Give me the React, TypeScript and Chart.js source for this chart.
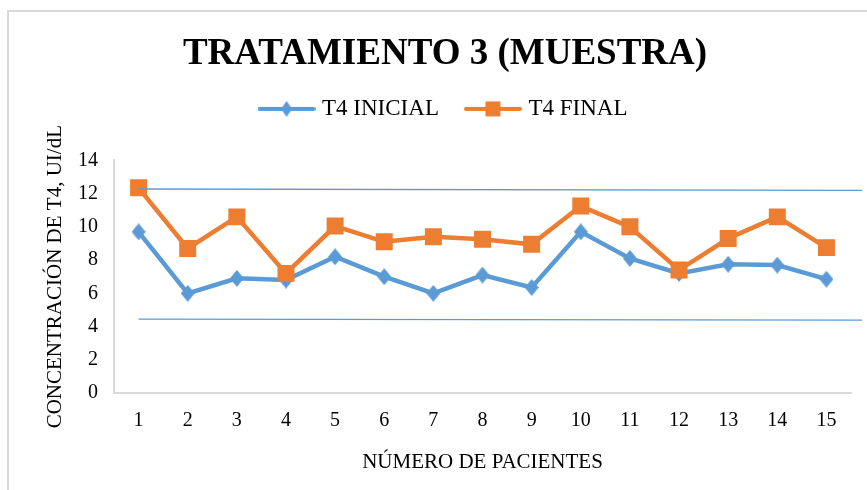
import React, { useEffect, useRef } from "react";
import { Chart, registerables } from "chart.js";

Chart.register(...registerables);

const categories = ["1", "2", "3", "4", "5", "6", "7", "8", "9", "10", "11", "12", "13", "14", "15"];
const t4Inicial = [9.7, 6.0, 6.9, 6.8, 8.2, 7.0, 6.0, 7.1, 6.35, 9.7, 8.1, 7.2, 7.75, 7.7, 6.85];
const t4Final = [12.35, 8.7, 10.6, 7.2, 10.05, 9.1, 9.4, 9.25, 8.95, 11.25, 10.0, 7.4, 9.3, 10.6, 8.75];
// hand-drawn reference lines: value at the left start and at the right end
const refUpper = [12.28, 12.2];
const refLower = [4.45, 4.39];

const BLUE = "#5B9BD5";
const ORANGE = "#ED7D31";
const FONT = "'Liberation Serif', 'Times New Roman', serif";

function makeDiamond(w: number, h: number, color: string) {
  const c = document.createElement("canvas");
  c.width = w;
  c.height = h;
  const ctx = c.getContext("2d")!;
  ctx.fillStyle = color;
  ctx.beginPath();
  ctx.moveTo(w / 2, 0);
  ctx.lineTo(w, h / 2);
  ctx.lineTo(w / 2, h);
  ctx.lineTo(0, h / 2);
  ctx.closePath();
  ctx.fill();
  return c;
}

function makeLegendIcon(kind: "diamond" | "square", color: string) {
  const w = 58;
  const h = 18;
  const c = document.createElement("canvas");
  c.width = w;
  c.height = h;
  const ctx = c.getContext("2d")!;
  ctx.strokeStyle = color;
  ctx.lineWidth = 4;
  ctx.lineCap = "round";
  ctx.beginPath();
  ctx.moveTo(2, h / 2);
  ctx.lineTo(w - 2, h / 2);
  ctx.stroke();
  ctx.fillStyle = color;
  if (kind === "diamond") {
    ctx.beginPath();
    ctx.moveTo(w / 2, 1);
    ctx.lineTo(w / 2 + 5.5, h / 2);
    ctx.lineTo(w / 2, h - 1);
    ctx.lineTo(w / 2 - 5.5, h / 2);
    ctx.closePath();
    ctx.fill();
  } else {
    ctx.fillRect(w / 2 - 7.5, h / 2 - 7.5, 15, 15);
  }
  return c;
}

const refLinesPlugin = {
  id: "refLines",
  afterDatasetsDraw(chart: any) {
    const { ctx } = chart;
    const x = chart.scales.x;
    const y = chart.scales.y;
    const x0 = x.getPixelForValue(0);
    const x1 = chart.chartArea.right + 11;
    ctx.save();
    ctx.strokeStyle = BLUE;
    ctx.lineWidth = 1.3;
    for (const r of [refUpper, refLower]) {
      ctx.beginPath();
      ctx.moveTo(x0, y.getPixelForValue(r[0]));
      ctx.lineTo(x1, y.getPixelForValue(r[1]));
      ctx.stroke();
    }
    ctx.restore();
  },
};

const legendSpacePlugin = {
  id: "legendSpace",
  afterInit(chart: any) {
    const lg = chart.legend;
    if (!lg) return;
    const orig = lg.fit.bind(lg);
    lg.fit = () => {
      orig();
      lg.height += 30;
    };
  },
};

export default function App() {
  const ref = useRef<HTMLCanvasElement>(null);

  useEffect(() => {
    const diamond = makeDiamond(14, 17, BLUE);
    const legendBlue = makeLegendIcon("diamond", BLUE);
    const legendOrange = makeLegendIcon("square", ORANGE);

    const chart = new Chart(ref.current!, {
      type: "line",
      data: {
        labels: categories,
        datasets: [
          {
            label: "T4 INICIAL",
            data: t4Inicial,
            borderColor: BLUE,
            backgroundColor: BLUE,
            borderWidth: 4.5,
            pointStyle: diamond as any,
            pointRadius: 8,
            order: 1,
          },
          {
            label: "T4 FINAL",
            data: t4Final,
            borderColor: ORANGE,
            backgroundColor: ORANGE,
            borderWidth: 4.5,
            pointStyle: "rect",
            pointRadius: 12,
            pointBorderWidth: 0,
            order: 0,
          },
        ],
      },
      options: {
        animation: false,
        responsive: false,
        maintainAspectRatio: false,
        layout: { padding: { left: 39, right: 16, top: 0, bottom: 11 } },
        plugins: {
          title: {
            display: true,
            text: "TRATAMIENTO 3 (MUESTRA)",
            color: "#000",
            font: { family: FONT, size: 37, weight: "bold" },
            padding: { top: 32, bottom: -9 },
          },
          legend: {
            display: true,
            position: "top",
            labels: {
              color: "#000",
              font: { family: FONT, size: 23 },
              usePointStyle: true,
              pointStyleWidth: 48,
              padding: 30,
              sort: (a: any, b: any) => a.datasetIndex - b.datasetIndex,
              generateLabels: (chart: any) =>
                chart.data.datasets.map((ds: any, i: number) => ({
                  text: ds.label,
                  datasetIndex: i,
                  pointStyle: i === 0 ? legendBlue : legendOrange,
                  fillStyle: ds.backgroundColor,
                  strokeStyle: ds.borderColor,
                  lineWidth: 0,
                  hidden: false,
                  fontColor: "#000",
                })),
            },
          },
          tooltip: { enabled: false },
        },
        scales: {
          x: {
            offset: true,
            grid: { display: false, drawTicks: false },
            border: { display: true, color: "#d9d9d9", width: 2 },
            ticks: { color: "#000", font: { family: FONT, size: 20 }, padding: 16, maxRotation: 0 },
            title: {
              display: true,
              text: "NÚMERO DE PACIENTES",
              color: "#000",
              font: { family: FONT, size: 21 },
              padding: { top: 0.8, bottom: 4 },
            },
          },
          y: {
            min: 0,
            max: 14,
            grid: { display: false, drawTicks: false },
            border: { display: true, color: "#d9d9d9", width: 2 },
            ticks: { stepSize: 2, color: "#000", font: { family: FONT, size: 20 }, padding: 16 },
            title: {
              display: true,
              text: "CONCENTRACIÓN DE T4, UI/dL",
              color: "#000",
              font: { family: FONT, size: 21 },
              padding: { top: 3.4, bottom: -5.6 },
            },
          },
        },
      },
      plugins: [refLinesPlugin, legendSpacePlugin],
    });
    return () => chart.destroy();
  }, []);

  return (
    <div style={{ position: "fixed", left: 0, top: 0, width: 867, height: 490, overflow: "hidden", background: "#fff" }}>
      <div
        style={{
          position: "absolute",
          left: 7,
          top: 10,
          width: 900,
          height: 520,
          border: "2px solid #d9d9d9",
          boxSizing: "border-box",
        }}
      />
      <canvas ref={ref} width={867} height={490} style={{ position: "absolute", left: 0, top: 0 }} />
    </div>
  );
}
